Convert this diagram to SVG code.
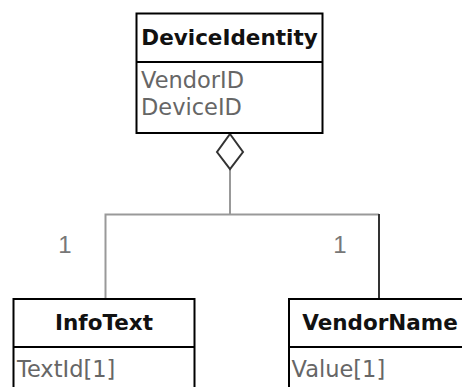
<svg xmlns="http://www.w3.org/2000/svg" width="462" height="387" viewBox="0 0 462 387">
<style>
.box{fill:#fff;stroke:#000;stroke-width:2}
.div{stroke:#000;stroke-width:2}
.hdr{font-family:"DejaVu Sans",sans-serif;font-weight:bold;font-size:21.5px;fill:#111;text-anchor:middle}
.attr{font-family:"DejaVu Sans",sans-serif;font-size:22.5px;fill:#666}
.mult{font-family:"Liberation Sans",sans-serif;font-size:24px;fill:#777;text-anchor:middle}
.conn{fill:none;stroke:#999;stroke-width:2}
</style>
<rect width="462" height="387" fill="#fff"/>
<g id="connectors">
<line class="conn" x1="230" y1="169" x2="230" y2="214.5"/>
<polyline class="conn" points="105.5,299 105.5,214.5 379,214.5"/>
<line x1="379" y1="214" x2="379" y2="299" stroke="#333" stroke-width="2"/>
<polygon points="230,134 243,152 230,169 217,152" fill="#fff" stroke="#333" stroke-width="2"/>
<text class="mult" x="65" y="253">1</text>
<text class="mult" x="340" y="253">1</text>
</g>
<g id="DeviceIdentity">
<rect class="box" x="136.5" y="13.5" width="186" height="119.5"/>
<line class="div" x1="136.5" y1="62" x2="322.5" y2="62"/>
<text class="hdr" x="229.5" y="45">DeviceIdentity</text>
<text class="attr" x="141" y="88">VendorID</text>
<text class="attr" x="141" y="115">DeviceID</text>
</g>
<g id="InfoText">
<rect class="box" x="13.5" y="299" width="181" height="100"/>
<line class="div" x1="13.5" y1="347" x2="194.5" y2="347"/>
<text class="hdr" x="104" y="330">InfoText</text>
<text class="attr" x="17" y="377">TextId[1]</text>
</g>
<g id="VendorName">
<rect class="box" x="289" y="299" width="181" height="100"/>
<line class="div" x1="289" y1="347" x2="470" y2="347"/>
<text class="hdr" x="380" y="330">VendorName</text>
<text class="attr" x="291.5" y="377">Value[1]</text>
</g>
</svg>
